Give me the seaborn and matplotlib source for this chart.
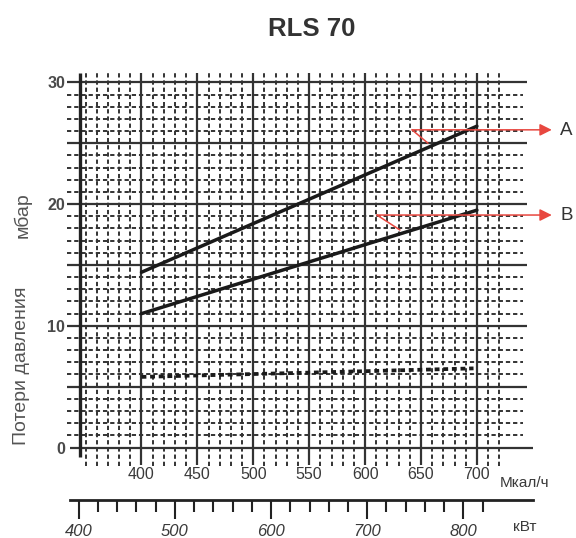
"""RLS 70 pressure loss chart."""
import matplotlib
matplotlib.use("Agg")
import matplotlib.pyplot as plt
import seaborn as sns

# --- data ---
title = "RLS 70"
mcal_ticks = [400, 450, 500, 550, 600, 650, 700]
mbar_ticks = [0, 10, 20, 30]
kw_ticks = [400, 500, 600, 700, 800]
kw_minor = [420, 440, 460, 480, 520, 540, 560, 580, 620, 640, 660, 680,
            720, 740, 760, 780, 820]
flow = [400, 700]
loss_a = [14.4, 26.4]
loss_b = [11.0, 19.5]
flow_c = [400, 697]
loss_c = [5.8, 6.5]

KW_PER_MCAL = 1.163

sns.set_style("white")
plt.rcParams["font.family"] = ["Liberation Sans", "DejaVu Sans"]

fig = plt.figure(figsize=(5.76, 5.38), dpi=100)
ax = fig.add_axes([70 / 576, 72 / 538, 463 / 576, 393 / 538])
ax.set_xlim(336.05, 750.2)
ax.set_ylim(-1.52, 30.77)
for s in ax.spines.values():
    s.set_visible(False)

GRID = "#333333"
dash = (0, (2.2, 1.5))

# horizontal grid: solid every 5 mbar, dashed every 1 mbar
for m in range(0, 31):
    if m % 5 == 0:
        x0 = 336.05 if m == 0 else 333.4
        x1 = 750.2 if m == 0 else 745.0
        ax.hlines(m, x0, x1, color=GRID, lw=1.6, clip_on=False)
    else:
        ax.hlines(m, 333.4, 741.0, color=GRID, lw=1.4, linestyles=dash, clip_on=False)

# vertical grid: solid every 50 from 400, dashed every 10
for v in range(350, 721, 10):
    if v >= 400 and v % 50 == 0:
        ax.vlines(v, -1.45, 30.77, color=GRID, lw=1.6)
    else:
        ax.vlines(v, -1.52, 30.77, color=GRID, lw=1.4, linestyles=dash)

# left axis line
ax.vlines(344.6, -0.78, 30.77, color="#222222", lw=2.4)

# pressure loss curves
sns.lineplot(x=flow, y=loss_a, ax=ax, color="#1a1a1a", lw=2.5)
sns.lineplot(x=flow, y=loss_b, ax=ax, color="#1a1a1a", lw=2.5)
sns.lineplot(x=flow_c, y=loss_c, ax=ax, color="#1a1a1a", lw=2.7,
             linestyle=(0, (1.3, 1.0)))

# red call-outs
RED = "#e8473f"
for (x0, xd, yh, yd, label) in [(642, 656.3, 26.1, 25.0, "A"),
                                (610.6, 631.2, 19.1, 17.87, "B")]:
    ax.annotate("", xy=(767, yh), xytext=(x0, yh), annotation_clip=False,
                arrowprops=dict(arrowstyle="-|>", color=RED, lw=1.1,
                                mutation_scale=18, shrinkA=0, shrinkB=0))
    ax.plot([x0, xd], [yh, yd], color=RED, lw=1.1)
    ax.text(780, yh - 0.05, label, fontsize=13.5, color="#333333",
            ha="center", va="center", clip_on=False)

# Mcal/h ticks
ax.set_xticks(mcal_ticks)
ax.set_xticklabels([str(t) for t in mcal_ticks], fontsize=11.5, color="#3a3a3a")
ax.tick_params(axis="x", length=0, pad=1)
ax.set_yticks(mbar_ticks)
ax.set_yticklabels([str(t) for t in mbar_ticks], fontsize=11.5, color="#4a4a4a",
                   fontweight="bold")
ax.tick_params(axis="y", length=0, pad=3.5)
ax.text(743.0, -2.92, "Мкал/ч", fontsize=11, color="#3a3a3a",
        ha="center", va="center", clip_on=False)

# kW scale
sec = ax.secondary_xaxis(-34 / 393, functions=(lambda v: v * KW_PER_MCAL,
                                               lambda k: k / KW_PER_MCAL))
sec.spines["bottom"].set_linewidth(2.0)
sec.spines["bottom"].set_color("#222222")
sec.set_xticks(kw_ticks)
sec.set_xticks(kw_minor, minor=True)
sec.set_xticklabels([str(t) for t in kw_ticks], fontsize=12, color="#3a3a3a",
                    fontstyle="italic")
sec.tick_params(axis="x", which="major", length=14, width=1.5, color="#222222",
                direction="out", pad=3)
sec.tick_params(axis="x", which="minor", length=8.5, width=1.5, color="#222222",
                direction="out")
ax.text(743.0, -6.53, "кВт", fontsize=11, color="#3a3a3a",
        ha="center", va="center", clip_on=False)

# axis title pieces and chart title
fig.text(22 / 576, 1 - 215 / 538, "мбар", rotation=90, fontsize=14,
         color="#555555", ha="center", va="center")
fig.text(22 / 576, 1 - 366 / 538, "Потери давления", rotation=90, fontsize=14,
         color="#555555", ha="center", va="center")
fig.text(312 / 576, 1 - 29 / 538, title, fontsize=18.5, fontweight="bold",
         color="#333333", ha="center", va="center")

fig.savefig("out.png", dpi=100)
